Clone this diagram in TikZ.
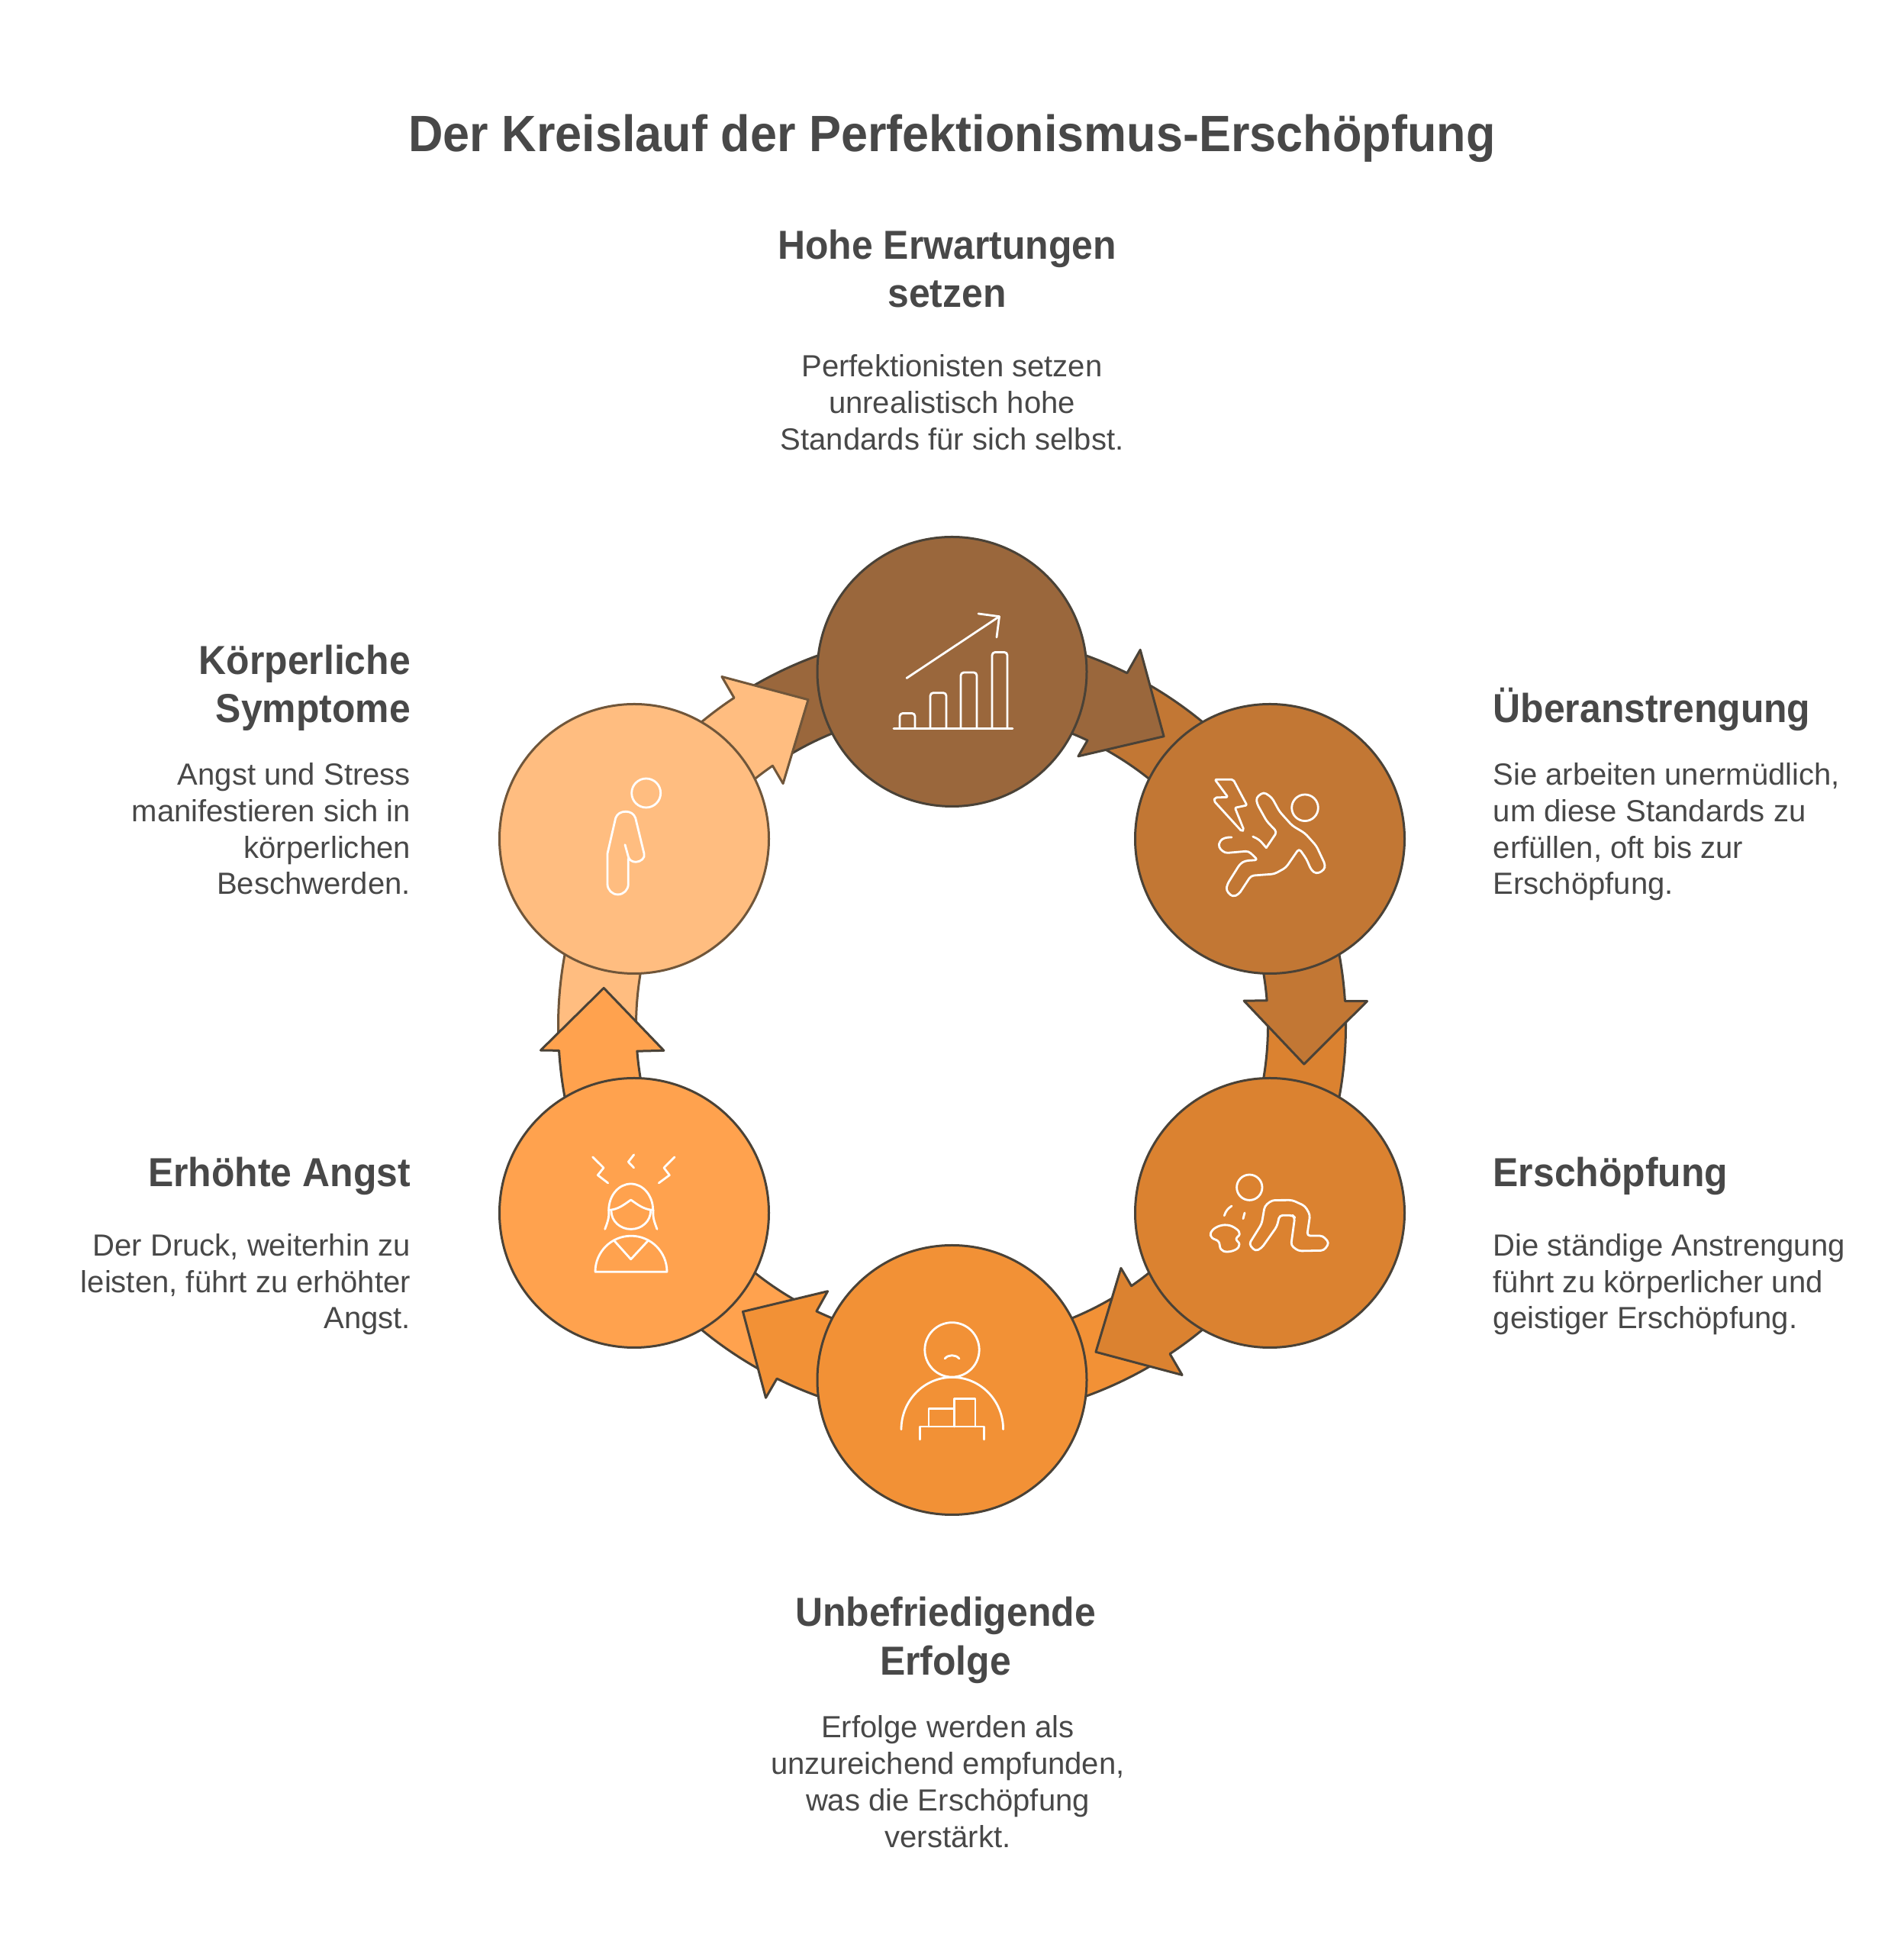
\documentclass[tikz,border=0pt]{standalone}
\usepackage{xcolor}
\usepackage{fontspec}
\setmainfont{Liberation Sans}[BoldFeatures={FakeStretch=0.94}]
\usetikzlibrary{backgrounds}
\definecolor{expect}{RGB}{154,103,60}
\definecolor{strain}{RGB}{194,119,52}
\definecolor{burnout}{RGB}{219,130,48}
\definecolor{results}{RGB}{242,145,54}
\definecolor{anxiety}{RGB}{255,162,78}
\definecolor{symptoms}{RGB}{255,189,128}
\definecolor{rim}{RGB}{74,66,55}
\definecolor{softrim}{RGB}{112,86,58}
\definecolor{ink}{RGB}{72,72,72}
\tikzstyle{stage}=[minimum size=3.53cm,inner sep=0pt,circle,draw=rim,line width=.03cm]
\tikzset{band/.style={draw=rim,line width=.03cm,line join=round}}
\tikzset{icon/.style={draw=white,line width=.028cm,line cap=round,line join=round}}
\tikzset{title/.style={font=\fontsize{19.06}{24}\selectfont\bfseries,text=ink,inner sep=0pt}}
\tikzset{heading/.style={font=\fontsize{15.1}{18.2}\selectfont\bfseries,text=ink,inner sep=0pt}}
\tikzset{body/.style={font=\fontsize{11.4}{13.65}\selectfont,text=ink,inner sep=0pt}}
% tail runs from under the incoming head to the node, #2 node, #3 its angle on the ring
\newcommand{\flowtail}[3][band]{%
  \draw[#1] (#2.center) -- (#3:5.16) arc[start angle=#3,delta angle=32,radius=5.16]
    -- (#3+32:4.14) arc[start angle=#3+32,delta angle=-32,radius=4.14] -- cycle;}
% arrow leaves the node and stops short of the next one, #4 pushes the head in or out
\newcommand{\flowhead}[4][band]{%
  \draw[#1] (#2.center) -- (#3:5.16) arc[start angle=#3,delta angle=-26.4,radius=5.16]
    -- (#3-26.6:5.48+#4) -- (#3-36.2:4.67+#4) -- (#3-25.1:3.87+#4) -- (#3-25.4:4.14)
    arc[start angle=#3-25.4,delta angle=25.4,radius=4.14] -- cycle;}
\begin{document}
\begin{tikzpicture}
  \useasboundingbox (0,0) rectangle (24.95,25.6);
  \coordinate (ring) at (12.475,12.16);

  \draw (12.475,16.80) node[stage,fill=expect] (N1) {};
  \draw (16.64,14.61) node[stage,fill=strain] (N2) {};
  \draw (16.64,9.71) node[stage,fill=burnout] (N3) {};
  \draw (12.475,7.52) node[stage,fill=results] (N4) {};
  \draw (8.31,9.71) node[stage,fill=anxiety] (N5) {};
  \draw (8.31,14.61) node[stage,fill=symptoms,draw=softrim] (N6) {};

  \begin{scope}[on background layer,shift={(ring)}]
    %% Tails first, heads go over them
    \flowtail[band,fill=expect]{N1}{90}
    \flowtail[band,fill=strain]{N2}{30}
    \flowtail[band,fill=burnout]{N3}{-30}
    \flowtail[band,fill=results]{N4}{-90}
    \flowtail[band,fill=anxiety]{N5}{-150}
    \flowtail[band,fill=symptoms,draw=softrim]{N6}{150}

    \flowhead[band,fill=expect]{N1}{90}{.03}
    \flowhead[band,fill=strain]{N2}{30}{-.03}
    \flowhead[band,fill=burnout]{N3}{-30}{0}
    \flowhead[band,fill=results]{N4}{-90}{-.03}
    \flowhead[band,fill=anxiety]{N5}{-150}{-.08}
    \flowhead[band,fill=symptoms,draw=softrim]{N6}{150}{0}
  \end{scope}

  %% Icons
  \begin{scope}[shift={(N1)}]
    \draw[icon] (-.765,-.745) -- (.795,-.745);
    \draw[icon,rounded corners=.04cm] (-.685,-.745) -- (-.685,-.545) -- (-.485,-.545) -- (-.485,-.745);
    \draw[icon,rounded corners=.04cm] (-.285,-.745) -- (-.285,-.277) -- (-.075,-.277) -- (-.075,-.745);
    \draw[icon,rounded corners=.04cm] (.115,-.745) -- (.115,-.01) -- (.325,-.01) -- (.325,-.745);
    \draw[icon,rounded corners=.04cm] (.525,-.745) -- (.525,.255) -- (.725,.255) -- (.725,-.745);
    \draw[icon] (-.595,-.085) -- (.62,.723);
    \draw[icon] (.345,.76) -- (.62,.723) -- (.585,.45);
  \end{scope}
  \begin{scope}[shift={(N2)}]
    \draw[icon,rounded corners=.02cm] (-.72,.777) -- (-.48,.777) -- (-.30,.44) -- (-.457,.407) -- (-.34,.117) -- (-.367,.097) -- (-.733,.497) -- (-.72,.54) -- (-.55,.547) -- cycle;
    \draw[icon] (.46,.407) circle (.173);
    \draw[icon,rounded corners=.04cm] (-.047,-.117) -- (.093,.09) -- (-.04,.23) -- (-.167,.457) -- (-.18,.54) -- (-.08,.613) -- (.027,.54) -- (.127,.357) -- (.293,.173) -- (.46,.073) -- (.61,-.093) -- (.727,-.343) -- (.71,-.41) -- (.61,-.46) -- (.543,-.41) -- (.477,-.26) -- (.383,-.127) -- (.21,-.377) -- (.06,-.46) -- (-.247,-.483) -- (-.407,-.727) -- (-.49,-.76) -- (-.573,-.677) -- (-.557,-.593) -- (-.39,-.327) -- (-.323,-.287) -- (-.157,-.277) -- (-.28,-.16) -- (-.59,-.187) -- (-.673,-.11) -- (-.657,-.027) -- (-.59,.017) -- (-.50,.02);
    \draw[icon,rounded corners=.04cm] (-.223,.03) -- (-.14,-.01) -- (-.047,-.117);
  \end{scope}
  \begin{scope}[shift={(N3)}]
    \draw[icon] (-.267,.333) circle (.167);
    \draw[icon] (-.597,-.037) to[bend left=20] (-.50,.09);
    \draw[icon] (-.35,-.077) -- (-.33,0);
    \draw[icon] plot[smooth cycle,tension=.7] coordinates {(-.773,-.26) (-.69,-.183) (-.557,-.16) (-.44,-.21) (-.397,-.277) (-.44,-.343) (-.40,-.41) (-.44,-.477) (-.557,-.51) (-.64,-.477) (-.673,-.377) (-.757,-.327)};
    \draw[icon,rounded corners=.04cm] (-.107,-.143) -- (-.067,.09) -- (.027,.165) -- (.293,.167) -- (.46,.09) -- (.527,-.027) -- (.487,-.30) -- (.693,-.30) -- (.777,-.393) -- (.71,-.493) -- (.377,-.50) -- (.277,-.427) -- (.327,-.06) -- (.30,-.033) -- (.127,-.033) -- (.093,-.177) -- (-.107,-.46) -- (-.19,-.503) -- (-.273,-.41) -- cycle;
  \end{scope}
  \begin{scope}[shift={(N4)}]
    \draw[icon] (0,.396) circle (.357);
    \draw[icon] (-.095,.28) to[bend left=50] (.095,.28);
    \draw[icon] (-.665,-.647) arc[start angle=180,end angle=0,x radius=.668,y radius=.683];
    \draw[icon] (-.42,-.78) -- (-.42,-.61) -- (.418,-.61) -- (.418,-.78);
    \draw[icon] (-.305,-.61) -- (-.305,-.378) -- (.03,-.378) -- (.03,-.61);
    \draw[icon] (.03,-.378) -- (.03,-.243) -- (.305,-.243) -- (.305,-.61);
  \end{scope}
  \begin{scope}[shift={(N5)}]
    \draw[icon] (-.543,.732) -- (-.40,.59) -- (-.477,.494) -- (-.343,.391);
    \draw[icon] (-.003,.762) -- (-.077,.667) -- (-.003,.59);
    \draw[icon] (.53,.732) -- (.39,.59) -- (.463,.494) -- (.323,.391);
    \draw[icon] (-.333,.035) arc[start angle=180,end angle=0,x radius=.29,y radius=.345];
    \draw[icon] (-.30,.024) arc[start angle=180,end angle=360,x radius=.258,y radius=.238];
    \draw[icon] (-.333,.035) to[out=5,in=215] (-.043,.17) to[out=-35,in=175] (.25,.035);
    \draw[icon] (-.333,.035) to[out=-85,in=70] (-.383,-.214);
    \draw[icon] (.25,.035) to[out=-95,in=110] (.30,-.214);
    \draw[icon] (-.51,-.772) arc[start angle=180,end angle=0,radius=.47] -- cycle;
    \draw[icon] (-.26,-.367) -- (-.043,-.608) -- (.18,-.367);
  \end{scope}
  \begin{scope}[shift={(N6)}]
    \draw[icon] (.157,.60) circle (.19);
    \draw[icon] (-.12,-.077) -- (-.075,-.24) to[out=-70,in=180] (.023,-.303) to[out=0,in=-70] (.13,-.193) -- (.017,.273) to[out=110,in=0] (-.11,.357) to[out=180,in=70] (-.243,.273) -- (-.35,-.193) -- (-.35,-.593) arc[start angle=180,end angle=360,radius=.1365] -- (-.077,-.26);
  \end{scope}

  %% Texts
  \draw (12.475,23.615) node[title,anchor=base] (T0) {Der Kreislauf der Perfektionismus-Erschöpfung};

  \draw (12.41,21.57) node[heading,anchor=base,align=center] (T1) {Hohe Erwartungen\\setzen};
  \draw (12.475,19.705) node[body,anchor=base,align=center] (B1) {Perfektionisten setzen\\unrealistisch hohe\\Standards für sich selbst.};

  \draw (19.56,16.13) node[heading,anchor=base west,align=left] (T2) {Überanstrengung};
  \draw (19.56,13.88) node[body,anchor=base west,align=left] (B2) {Sie arbeiten unermüdlich,\\um diese Standards zu\\erfüllen, oft bis zur\\Erschöpfung.};

  \draw (19.56,10.05) node[heading,anchor=base west,align=left] (T3) {Erschöpfung};
  \draw (19.56,8.19) node[body,anchor=base west,align=left] (B3) {Die ständige Anstrengung\\führt zu körperlicher und\\geistiger Erschöpfung.};

  \draw (12.39,3.654) node[heading,anchor=base,align=center] (T4) {Unbefriedigende\\Erfolge};
  \draw (12.42,1.40) node[body,anchor=base,align=center] (B4) {Erfolge werden als\\unzureichend empfunden,\\was die Erschöpfung\\verstärkt.};

  \draw (5.386,10.05) node[heading,anchor=base east,align=right] (T5) {Erhöhte Angst};
  \draw (5.386,8.19) node[body,anchor=base east,align=right] (B5) {Der Druck, weiterhin zu\\leisten, führt zu erhöhter\\Angst.};

  \draw (5.386,16.13) node[heading,anchor=base east,align=right] (T6) {Körperliche\\Symptome};
  \draw (5.386,13.88) node[body,anchor=base east,align=right] (B6) {Angst und Stress\\manifestieren sich in\\körperlichen\\Beschwerden.};
\end{tikzpicture}
\end{document}
